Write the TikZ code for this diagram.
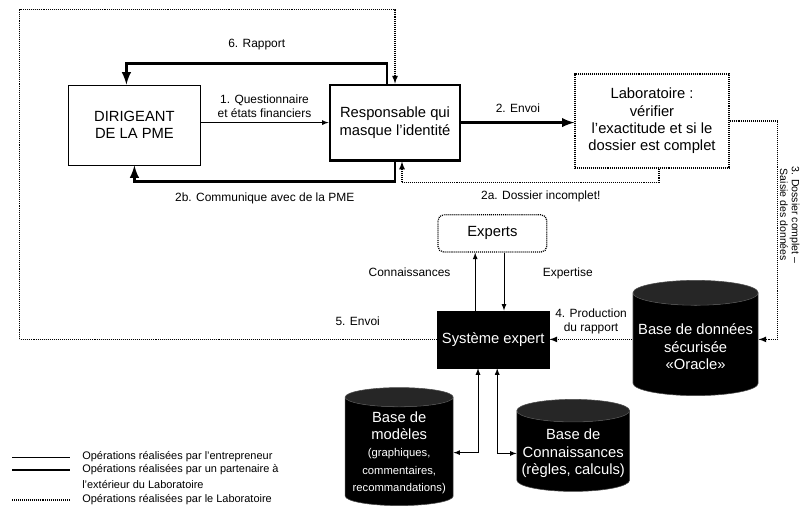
\documentclass[tikz,border=0pt]{standalone}
\usepackage{fontspec}
\setmainfont{Liberation Sans}
\usetikzlibrary{shapes.geometric}
\newcommand\petit{\fontsize{8.5}{9.8}\selectfont}
\newcommand\mini{\fontsize{8}{9.3}\selectfont}
\newcommand\legende{\fontsize{7.8}{9}\selectfont}
\tikzset{
  entrepreneur/.style={line width=0.6pt},
  partenaire/.style={line width=2pt},
  laboratoire/.style={line width=0.9pt, dash pattern=on 0.7pt off 0.7pt},
  boite/.style={draw, align=center, font=\fontsize{10.5}{12.3}\selectfont},
  base/.style={cylinder, shape border rotate=90, aspect=0.2, draw=black!70,
    anchor=shape center,
    cylinder uses custom fill, cylinder body fill=black, cylinder end fill=black!85,
    text=white, align=center, font=\fontsize{10.5}{12.3}\selectfont},
}
\begin{document}
\begin{tikzpicture}[>=latex]
  \useasboundingbox (0,0) rectangle (20.1,12.925);
  \path
  (3.36,9.8) node[boite, entrepreneur, minimum width=3.28cm, minimum height=2cm] (dir) {DIRIGEANT\\DE LA PME}
  (9.875,9.86) node[boite, partenaire, minimum width=3.25cm, minimum height=1.88cm] (resp) {Responsable qui\\masque l'identité}
  (16.3,9.9) node[boite, laboratoire, minimum width=3.85cm, minimum height=2.35cm] (labo) {Laboratoire :\\vérifier\\l'exactitude et si le\\dossier est complet}
  (12.31,7.09) node[boite, laboratoire, rounded corners=4pt, minimum width=2.72cm, minimum height=0.93cm] (experts) {Experts}
  (12.33,4.44) node[boite, fill=black, text=white, minimum width=2.7cm, minimum height=1.43cm] (sys) {Système expert}
  (17.39,4.475) node[base, minimum width=3.13cm, minimum height=2.88cm] (oracle) {Base de données\\sécurisée\\«Oracle»}
  (9.98,1.76) node[base, inner sep=1pt, minimum width=2.7cm, minimum height=2.95cm] (modeles) {Base de\\modèles\\\mini (graphiques,\\\mini commentaires,\\\mini recommandations)}
  (14.33,1.79) node[base, minimum width=2.75cm, minimum height=2.3cm] (connais) {Base de\\Connaissances\\(règles, calculs)};

  % flux entre le dirigeant et le responsable
  \draw[entrepreneur,->] (dir.east |- resp.west) -- node[above, align=center, font=\petit] {1. Questionnaire\\et états financiers} (resp.west);
  \draw[partenaire,->] ([xshift=-2mm]resp.north) -- ++(0,0.5) -| node[pos=0.25, above=5pt, font=\petit] {6. Rapport} ([xshift=-2mm]dir.north);
  \draw[partenaire,->] (resp.south) -- ++(0,-0.5) -| node[pos=0.25, below=4pt, font=\petit] {2b. Communique avec de la PME} (dir.south);
  \draw[partenaire,->] (resp.east) -- node[above=3pt, font=\petit] {2. Envoi} (resp.east -| labo.west);

  % flux du laboratoire
  \draw[laboratoire,->] ([xshift=1.75mm]labo.south) -- ++(0,-0.35) -| node[pos=0.23, below=2pt, font=\petit] {2a. Dossier incomplet!} ([xshift=1.75mm]resp.south);
  \draw[laboratoire,->] (labo.east) -- ++(1.2,0) |- node[pos=0.215, rotate=-90, anchor=south, inner sep=1.2pt, align=center, font=\fontsize{7.5}{8.4}\selectfont] {3. Dossier complet --\\Saisie des données} (oracle.east |- sys.east);
  \draw[laboratoire,<-] (sys.east) -- node[above, align=center, font=\petit] {4. Production\\du rapport} (sys.east -| oracle.west);
  \draw[laboratoire,->] (sys.west) -- node[pos=0.19, above=6pt, font=\petit] {5. Envoi} ++(-10.43,0) -- ++(0,8.24) -| (resp.north);

  % systeme expert
  \draw[entrepreneur,->] ([xshift=-4.5mm]sys.north) -- node[pos=0.665, left=14pt, font=\petit] {Connaissances} ([xshift=-4.5mm]sys.north |- experts.south);
  \draw[entrepreneur,->] ([xshift=2.9mm]experts.south) -- node[pos=0.36, right=24pt, font=\petit] {Expertise} ([xshift=2.9mm]experts.south |- sys.north);
  \draw[entrepreneur,<->] (modeles.east) -| ([xshift=-3.8mm]sys.south);
  \draw[entrepreneur,<->] ([xshift=1mm]sys.south) |- (connais.west);

  % legende
  \draw[entrepreneur] (0.3,1.5) -- (1.75,1.5);
  \draw[partenaire] (0.3,1.175) -- (1.75,1.175);
  \draw[laboratoire] (0.3,0.425) -- (1.75,0.425);
  \path[font=\legende, inner sep=0pt, anchor=west]
  (2.05,1.5) node (leg1) {Opérations réalisées par l'entrepreneur}
  (2.05,1.175) node (leg2) {Opérations réalisées par un partenaire à}
  (2.05,0.8) node (leg3) {l'extérieur du Laboratoire}
  (2.05,0.425) node (leg4) {Opérations réalisées par le Laboratoire};
\end{tikzpicture}
\end{document}
